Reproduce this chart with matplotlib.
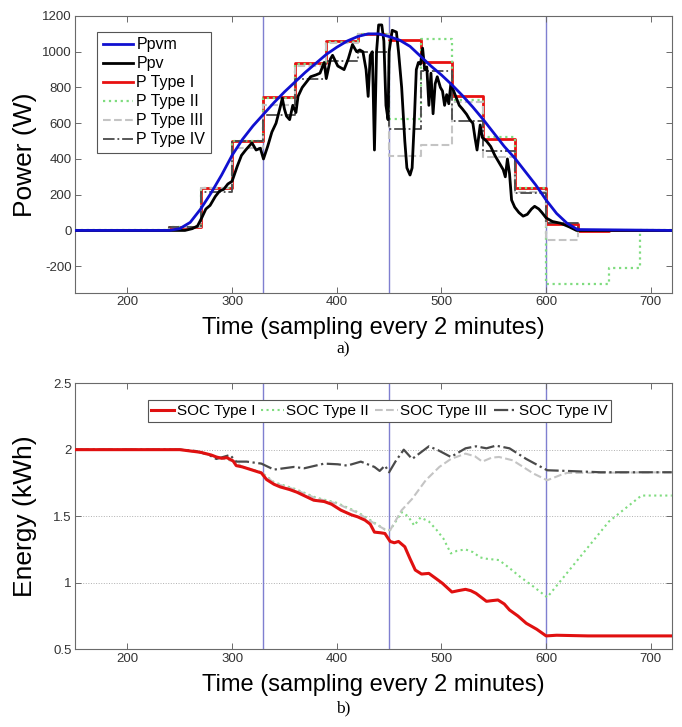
import matplotlib
matplotlib.use("Agg")
import matplotlib.pyplot as plt

plt.rcParams['font.family'] = ['Liberation Sans', 'DejaVu Sans']
plt.rcParams['axes.unicode_minus'] = False

# ---- data ----
phase_lines = [330, 450, 600]

# smooth model power (Ppvm)
ppvm_t = [150, 240, 250, 260, 270, 280, 290, 300, 310, 320, 330, 340, 350, 360, 370, 380, 390,
          400, 410, 420, 430, 440, 450, 460, 470, 480, 490, 500, 510, 520, 530, 540, 550, 560,
          570, 580, 590, 600, 610, 620, 630, 720]
ppvm = [0, 0, 10, 45, 120, 210, 310, 420, 510, 585, 650, 715, 775, 830, 885, 935, 985,
        1025, 1060, 1085, 1100, 1100, 1085, 1065, 1030, 975, 920, 870, 815, 755, 690, 620, 545, 470,
        405, 330, 255, 170, 95, 40, 5, 0]

# measured power (Ppv)
ppv_t = [150, 255, 262, 267, 271, 275, 279, 284, 288, 292, 296, 300, 305, 309, 313, 319, 323, 327,
         330, 334, 338, 342, 346, 348, 350, 352, 355, 358, 361, 363, 367, 371, 375, 380, 384, 388,
         390, 394, 396, 401, 404, 407, 411, 415, 419, 422, 425, 428, 430, 432, 434, 436, 438, 440,
         443, 445, 447, 449, 450, 453, 457, 459, 462, 465, 467, 470, 472, 474, 476, 478, 480, 482,
         484, 486, 488, 490, 492, 494, 496, 499, 501, 503, 505, 507, 509, 513, 517, 520, 524, 527,
         530, 532, 534, 537, 539, 543, 547, 551, 555, 559, 561, 563, 565, 567, 570, 574, 578, 582,
         586, 589, 593, 596, 600, 606, 614, 622, 629, 720]
ppv = [0, 0, 10, 25, 70, 120, 140, 190, 220, 230, 260, 275, 360, 420, 450, 490, 450, 460,
       400, 470, 550, 600, 690, 740, 680, 640, 620, 700, 660, 750, 800, 830, 860, 870, 880, 940,
       850, 960, 980, 920, 910, 900, 960, 1040, 1000, 1010, 1000, 900, 750, 980, 1000, 450, 1000, 1150,
       1150, 1060, 700, 620, 1000, 1120, 1110, 1000, 800, 500, 350, 310, 350, 600, 900, 940, 930, 1020,
       900, 915, 700, 880, 653, 820, 860, 800, 780, 700, 760, 709, 822, 760, 700, 680, 650, 620,
       600, 520, 450, 590, 520, 500, 470, 420, 380, 340, 300, 400, 320, 170, 130, 100, 80, 90,
       120, 135, 120, 100, 70, 50, 40, 20, 0, 0]

# step profiles, one value per 30-sample block
step_edges = [150, 240, 270, 300, 330, 360, 390, 420, 450, 480, 510, 540, 570, 600, 630, 660, 690, 720]
p_type1 = [0, 20, 240, 500, 745, 935, 1060, 1100, 1065, 940, 750, 510, 240, 35, -5, 0, 0]
p_type2 = [0, 20, 240, 500, 740, 930, 1055, 1100, 625, 1070, 730, 525, 240, -300, -300, -210, 0]
p_type3 = [0, 20, 235, 460, 700, 920, 1050, 1100, 415, 480, 720, 410, 215, -55, 0, 0, 0]
p_type4 = [0, 20, 215, 500, 645, 850, 950, 1000, 565, 890, 615, 443, 210, 40, 5, 0, 0]

# state of charge (kWh)
soc1_t = [150, 250, 260, 270, 280, 285, 290, 295, 301, 304, 310, 314, 320, 328, 333, 340, 346, 355,
          362, 370, 378, 388, 395, 404, 414, 420, 427, 432, 436, 442, 446, 451, 455, 459, 465, 470,
          475, 481, 488, 495, 501, 510, 516, 523, 528, 533, 538, 543, 548, 554, 560, 565, 573, 581,
          591, 600, 610, 640, 720]
soc1 = [2.0, 2.0, 1.99, 1.98, 1.96, 1.945, 1.935, 1.94, 1.915, 1.88, 1.87, 1.86, 1.845, 1.825, 1.775,
        1.74, 1.72, 1.70, 1.68, 1.65, 1.62, 1.61, 1.59, 1.545, 1.51, 1.495, 1.47, 1.44, 1.38, 1.375,
        1.37, 1.31, 1.30, 1.31, 1.27, 1.18, 1.095, 1.065, 1.07, 1.03, 0.995, 0.93, 0.94, 0.95, 0.94,
        0.92, 0.89, 0.86, 0.865, 0.87, 0.84, 0.795, 0.75, 0.695, 0.65, 0.60, 0.605, 0.60, 0.60]

soc2_t = [150, 250, 270, 290, 301, 310, 328, 340, 360, 380, 400, 420, 436, 446, 451, 462, 468, 474,
          480, 488, 495, 502, 509, 515, 523, 530, 537, 543, 555, 565, 575, 588, 601, 660, 691, 720]
soc2 = [2.0, 2.0, 1.98, 1.935, 1.915, 1.87, 1.83, 1.755, 1.705, 1.64, 1.60, 1.53, 1.45, 1.40, 1.395,
        1.53, 1.50, 1.43, 1.49, 1.46, 1.40, 1.33, 1.22, 1.24, 1.25, 1.23, 1.19, 1.18, 1.17, 1.11,
        1.045, 0.97, 0.89, 1.46, 1.655, 1.655]

soc3_t = [150, 250, 270, 290, 301, 310, 328, 340, 360, 380, 400, 420, 436, 446, 451, 462, 472, 485,
          498, 509, 523, 532, 539, 548, 555, 568, 580, 588, 601, 614, 620, 720]
soc3 = [2.0, 2.0, 1.98, 1.935, 1.915, 1.87, 1.83, 1.75, 1.70, 1.635, 1.595, 1.525, 1.445, 1.40, 1.395,
        1.545, 1.63, 1.77, 1.87, 1.93, 1.97, 1.95, 1.91, 1.94, 1.945, 1.92, 1.86, 1.82, 1.77, 1.81,
        1.825, 1.83]

soc4_t = [150, 250, 265, 278, 285, 298, 304, 314, 328, 340, 359, 369, 388, 401, 410, 423, 436, 441,
          446, 450, 456, 464, 472, 488, 497, 509, 523, 533, 543, 552, 565, 581, 601, 620, 652, 720]
soc4 = [2.0, 2.0, 1.99, 1.96, 1.93, 1.96, 1.91, 1.91, 1.895, 1.85, 1.87, 1.86, 1.895, 1.89, 1.88,
        1.91, 1.87, 1.84, 1.88, 1.83, 1.91, 2.0, 1.93, 2.025, 1.995, 1.945, 2.01, 2.025, 2.01, 2.03,
        2.01, 1.93, 1.845, 1.84, 1.83, 1.83]

# ---- styles ----
vline_color = '#7f7fd0'
green = '#7fdc7f'
light_gray = '#c4c4c4'
dark_gray = '#4a4a4a'
tick_fs = 9.5
xlabel_fs = 17
ylabel_fs = 19
ax_left, ax_width = 0.110, 0.875


def style_axes(ax):
	for sp in ax.spines.values():
		sp.set_color('#6a6a6a')
		sp.set_linewidth(0.8)
	ax.tick_params(direction='in', top=True, right=True, length=4, width=0.7, pad=2.5,
				   colors='#6a6a6a', labelcolor='#333333', labelsize=tick_fs)
	ax.set_xlim(150, 720)
	ax.set_xticks([200, 300, 400, 500, 600, 700])


def steps(vals):
	return vals + [vals[-1]]


fig = plt.figure(figsize=(6.82, 7.27), dpi=100)
x_center = ax_left + ax_width / 2

# ---- top panel ----
ax1 = fig.add_axes([ax_left, 0.597, ax_width, 0.381])
for xv in phase_lines:
	ax1.axvline(xv, color=vline_color, lw=1.0, zorder=1)
ax1.plot(ppvm_t, ppvm, color='#1010d0', lw=2.0, label='Ppvm', zorder=6)
ax1.plot(ppv_t, ppv, color='black', lw=2.0, label='Ppv', zorder=5)
ax1.step(step_edges, steps(p_type1), where='post', color='#e81010', lw=2.0, label='P Type I', zorder=3)
ax1.step(step_edges, steps(p_type2), where='post', color=green, lw=1.6, ls=':', label='P Type II', zorder=3)
ax1.step(step_edges, steps(p_type3), where='post', color=light_gray, lw=1.5, ls='--', label='P Type III', zorder=3)
ax1.step(step_edges, steps(p_type4), where='post', color=dark_gray, lw=1.3, ls='-.', label='P Type IV', zorder=4)
style_axes(ax1)
ax1.set_ylim(-350, 1200)
ax1.set_yticks([-200, 0, 200, 400, 600, 800, 1000, 1200])
ax1.set_ylabel('Power (W)', fontsize=ylabel_fs)
ax1.yaxis.set_label_coords(-0.063, 0.5)
leg1 = ax1.legend(loc='upper left', bbox_to_anchor=(0.024, 0.972), fontsize=11.5,
				  handlelength=1.9, handletextpad=0.2, labelspacing=0.25, borderpad=0.35,
				  fancybox=False, framealpha=1)
leg1.get_frame().set_edgecolor('#555555')
leg1.get_frame().set_linewidth(0.8)

fig.text(x_center, 0.549, 'Time (sampling every 2 minutes)', ha='center', va='center', fontsize=xlabel_fs)
fig.text(0.503, 0.519, 'a)', ha='center', va='center', fontsize=12.5, family='Liberation Serif')

# ---- bottom panel ----
ax2 = fig.add_axes([ax_left, 0.107, ax_width, 0.366])
for yv in [1.0, 1.5, 2.0]:
	ax2.axhline(yv, color='#b0b0b0', lw=0.7, ls=':', zorder=0)
for xv in phase_lines:
	ax2.axvline(xv, color=vline_color, lw=1.0, zorder=1)
ax2.plot(soc1_t, soc1, color='#e01010', lw=2.2, label='SOC Type I', zorder=5)
ax2.plot(soc2_t, soc2, color=green, lw=1.5, ls=':', label='SOC Type II', zorder=3)
ax2.plot(soc3_t, soc3, color=light_gray, lw=1.5, ls='--', label='SOC Type III', zorder=3)
ax2.plot(soc4_t, soc4, color=dark_gray, lw=1.6, ls='-.', label='SOC Type IV', zorder=4)
style_axes(ax2)
ax2.set_ylim(0.5, 2.5)
ax2.set_yticks([0.5, 1, 1.5, 2, 2.5])
ax2.set_yticklabels(['0.5', '1', '1.5', '2', '2.5'])
ax2.set_ylabel('Energy (kWh)', fontsize=ylabel_fs)
ax2.yaxis.set_label_coords(-0.063, 0.5)
leg2 = ax2.legend(loc='upper center', bbox_to_anchor=(0.51, 0.965), ncol=4, fontsize=11,
				  handlelength=1.5, handletextpad=0.15, columnspacing=0.4, borderpad=0.25,
				  fancybox=False, framealpha=1)
leg2.get_frame().set_edgecolor('#555555')
leg2.get_frame().set_linewidth(0.8)

fig.text(x_center, 0.058, 'Time (sampling every 2 minutes)', ha='center', va='center', fontsize=xlabel_fs)
fig.text(0.503, 0.026, 'b)', ha='center', va='center', fontsize=12.5, family='Liberation Serif')

fig.savefig('out.png', dpi=100)
